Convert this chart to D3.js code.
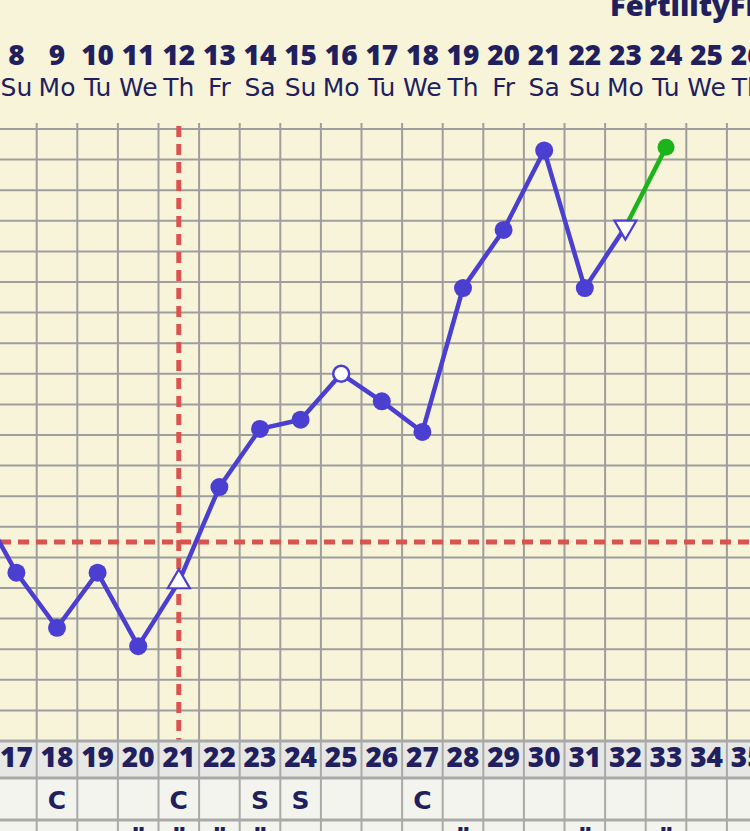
<!DOCTYPE html>
<html>
<head>
<meta charset="utf-8">
<script src="https://cdn.jsdelivr.net/npm/d3@7"></script>
<style>
html,body{margin:0;padding:0;background:#f8f4d9;overflow:hidden;}
svg{display:block;}
</style>
</head>
<body>
<svg id="chart" width="750" height="831"></svg>
<script>
// ---- data ----
const cycleDays = [16,17,18,19,20,21,22,23,24,25,26,27,28,29,30,31,32,33,34,35];
const dates     = [7,8,9,10,11,12,13,14,15,16,17,18,19,20,21,22,23,24,25,26];
const weekdays  = ["Sa","Su","Mo","Tu","We","Th","Fr","Sa","Su","Mo","Tu","We","Th","Fr","Sa","Su","Mo","Tu","We","Th"];
const tempDays  = [16,17,18,19,20,21,22,23,24,25,26,27,28,29,30,31,32,33];
const temps     = [97.79,97.55,97.37,97.55,97.31,97.52,97.83,98.02,98.05,98.20,98.11,98.01,98.48,98.67,98.93,98.48,98.68,98.94];
const markers   = ["dot","dot","dot","dot","dot","triUp","dot","dot","dot","open","dot","dot","dot","dot","dot","dot","triDown","green"];
const coverline = 97.65;
const ovulationDay = 21;
const cervixDays = [18,21,27];      // "C"
const spottingDays = [23,24];       // "S"
const quoteDays = [20,21,22,23,28,31,33];
const title = "FertilityFriend";

// ---- layout ----
const W = 750, H = 831;
const gridTop = 129, gridBottom = 741;
const colW = 40.6;
const x0 = 16.4;
const navy = "#221f5e", blue = "#4a3fd0", green = "#1bb51b", red = "#d9534f", gridC = "#9e9e9e";

const x = d3.scaleLinear().domain([17, 35]).range([x0, x0 + colW*18]);
const y = d3.scaleLinear().domain([97.0, 99.0]).range([gridBottom, gridTop]);

const svg = d3.select("#chart");
svg.append("rect").attr("width",W).attr("height",H).attr("fill","#f8f4d9");

// title (clipped at top)
svg.append("text").attr("x",610).attr("y",16)
  .attr("font-family","'Open Sans', sans-serif").attr("font-weight",800)
  .attr("font-size",29).attr("fill",navy).text(title);

// header
const hdr = svg.append("g");
hdr.selectAll("text.date").data(cycleDays.map((c,i)=>({c,d:dates[i]})))
  .join("text").attr("class","date")
  .attr("x",d=>x(d.c)).attr("y",65).attr("text-anchor","middle")
  .attr("font-family","'Open Sans', sans-serif").attr("font-weight",800)
  .attr("font-size",28).attr("fill",navy).text(d=>d.d);
hdr.selectAll("text.wd").data(cycleDays.map((c,i)=>({c,w:weekdays[i]})))
  .join("text").attr("class","wd")
  .attr("x",d=>x(d.c)).attr("y",96).attr("text-anchor","middle")
  .attr("font-family","'DejaVu Sans', sans-serif")
  .attr("font-size",25).attr("fill",navy).text(d=>d.w);

// grid
const g = svg.append("g");
const hTicks = d3.range(0,21).map(i => +(97.0 + i*0.1).toFixed(1));
g.selectAll("line.h").data(hTicks).join("line")
  .attr("x1",0).attr("x2",W).attr("y1",d=>y(d)).attr("y2",d=>y(d))
  .attr("stroke",gridC).attr("stroke-width",2);
const vLines = cycleDays.map(c => c - 0.5);
g.selectAll("line.v").data(vLines).join("line")
  .attr("x1",d=>x(d)).attr("x2",d=>x(d)).attr("y1",gridTop-6).attr("y2",gridBottom)
  .attr("stroke",gridC).attr("stroke-width",2);

// red dashed lines
svg.append("line").attr("x1",0).attr("x2",W).attr("y1",y(coverline)).attr("y2",y(coverline))
  .attr("stroke",red).attr("stroke-width",5).attr("stroke-dasharray","11,7");
svg.append("line").attr("x1",x(ovulationDay)).attr("x2",x(ovulationDay))
  .attr("y1",gridTop-3).attr("y2",gridBottom)
  .attr("stroke",red).attr("stroke-width",5).attr("stroke-dasharray","11,7");

// bottom rows
const rows = svg.append("g");
rows.append("rect").attr("x",0).attr("y",gridBottom).attr("width",W).attr("height",37).attr("fill","#e7e7e5");
rows.append("rect").attr("x",0).attr("y",778).attr("width",W).attr("height",42).attr("fill","#f4f4ef");
rows.append("rect").attr("x",0).attr("y",820).attr("width",W).attr("height",20).attr("fill","#f4f4ef");
[gridBottom, 778, 820].forEach(yy=>{
  rows.append("line").attr("x1",0).attr("x2",W).attr("y1",yy).attr("y2",yy)
    .attr("stroke","#a9a9a9").attr("stroke-width",3);
});
rows.selectAll("line.bv").data(vLines).join("line")
  .attr("x1",d=>x(d)).attr("x2",d=>x(d)).attr("y1",gridBottom).attr("y2",H)
  .attr("stroke","#a9a9a9").attr("stroke-width",2);
rows.selectAll("text.cd").data(cycleDays.slice(1)).join("text")
  .attr("x",d=>x(d)).attr("y",767).attr("text-anchor","middle")
  .attr("font-family","'Open Sans', sans-serif").attr("font-weight",800)
  .attr("font-size",28).attr("fill",navy).text(d=>d);
rows.selectAll("text.c").data(cervixDays).join("text")
  .attr("x",d=>x(d)).attr("y",809).attr("text-anchor","middle")
  .attr("font-family","'DejaVu Sans', sans-serif").attr("font-weight",700)
  .attr("font-size",25).attr("fill",navy).text("C");
rows.selectAll("text.s").data(spottingDays).join("text")
  .attr("x",d=>x(d)).attr("y",809).attr("text-anchor","middle")
  .attr("font-family","'DejaVu Sans', sans-serif").attr("font-weight",700)
  .attr("font-size",25).attr("fill",navy).text("S");
rows.selectAll("text.q").data(quoteDays).join("text")
  .attr("x",d=>x(d)).attr("y",845).attr("text-anchor","middle")
  .attr("font-family","'DejaVu Sans', sans-serif").attr("font-weight",700)
  .attr("font-size",24).attr("fill",navy).text("\u201D");

// temperature line
const pts = tempDays.map((c,i)=>({c, t:temps[i], m:markers[i]}));
const blueLine = pts.filter(p=>p.m!=="green");
const line = d3.line().x(d=>x(d.c)).y(d=>y(d.t));
const plot = svg.append("g");
plot.append("path").datum(blueLine).attr("d",line)
  .attr("fill","none").attr("stroke",blue).attr("stroke-width",4.5).attr("stroke-linejoin","round");
plot.append("path").datum(pts.slice(-2)).attr("d",line)
  .attr("fill","none").attr("stroke",green).attr("stroke-width",4.5);

// markers
plot.selectAll("circle.dot").data(pts.filter(p=>p.m==="dot")).join("circle")
  .attr("cx",d=>x(d.c)).attr("cy",d=>y(d.t)).attr("r",9).attr("fill",blue);
plot.selectAll("circle.open").data(pts.filter(p=>p.m==="open")).join("circle")
  .attr("cx",d=>x(d.c)).attr("cy",d=>y(d.t)).attr("r",8)
  .attr("fill","#ffffff").attr("stroke",blue).attr("stroke-width",2.5);
plot.selectAll("circle.green").data(pts.filter(p=>p.m==="green")).join("circle")
  .attr("cx",d=>x(d.c)).attr("cy",d=>y(d.t)).attr("r",8.5).attr("fill",green);
const tri = d3.symbol().type(d3.symbolTriangle).size(210);
plot.selectAll("path.tri").data(pts.filter(p=>p.m==="triUp"||p.m==="triDown")).join("path")
  .attr("d",tri)
  .attr("transform",d=>`translate(${x(d.c)},${y(d.t)}) rotate(${d.m==="triDown"?180:0})`)
  .attr("fill","#ffffff").attr("stroke",blue).attr("stroke-width",2.2);
</script>
</body>
</html>
